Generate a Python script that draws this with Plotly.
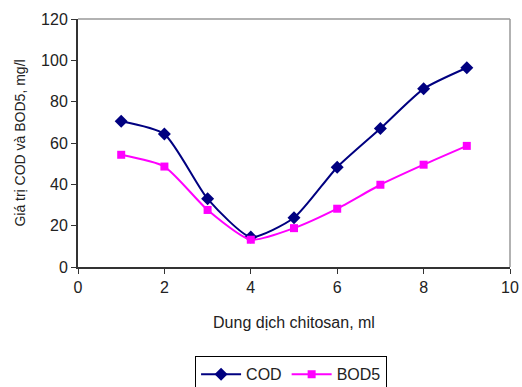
import plotly.graph_objects as go

x_vals = [1, 2, 3, 4, 5, 6, 7, 8, 9]
cod = [70.5, 64.3, 33, 14.5, 23.8, 48.3, 67, 86.2, 96.4]
bod5 = [54.3, 48.6, 27.6, 13.2, 18.8, 28.2, 39.8, 49.5, 58.6]
x_ticks = [0, 2, 4, 6, 8, 10]
y_ticks = [0, 20, 40, 60, 80, 100, 120]

font = "Liberation Sans, Arial, sans-serif"

fig = go.Figure()
fig.add_trace(go.Scatter(x=x_vals, y=cod, name="COD", mode="lines+markers",
                         line=dict(color="#000080", width=2, shape="spline", smoothing=0.6),
                         marker=dict(symbol="diamond", size=10, color="#000080")))
fig.add_trace(go.Scatter(x=x_vals, y=bod5, name="BOD5", mode="lines+markers",
                         line=dict(color="#FF00FF", width=2, shape="spline", smoothing=0.6),
                         marker=dict(symbol="square", size=8, color="#FF00FF")))

fig.add_shape(type="line", xref="paper", yref="paper", x0=0, x1=1, y0=1, y1=1,
              line=dict(color="#999999", width=1.5))
fig.add_shape(type="line", xref="paper", yref="paper", x0=1, x1=1, y0=0, y1=1,
              line=dict(color="#999999", width=1.5))

fig.update_layout(
    width=522, height=387,
    margin=dict(l=78, r=12, t=19, b=120, autoexpand=False),
    paper_bgcolor="white", plot_bgcolor="white",
    font=dict(family=font, size=15, color="#222222"),
    showlegend=True,
    legend=dict(orientation="h", x=0.271, y=-0.36, xanchor="left", yanchor="top",
                bordercolor="#000000", borderwidth=1, font=dict(size=16),
                itemwidth=40, tracegroupgap=0),
    xaxis=dict(range=[0, 10], tickvals=x_ticks, showgrid=False, zeroline=False,
               showline=True, linecolor="#333333", linewidth=2,
               ticks="outside", ticklen=5, tickcolor="#333333", automargin=False,
               tickfont=dict(size=16),
               title=dict(text="Dung dịch chitosan, ml", standoff=22, font=dict(size=16))),
    yaxis=dict(range=[0, 120], tickvals=y_ticks, showgrid=False, zeroline=False,
               showline=True, linecolor="#333333", linewidth=2,
               ticks="outside", ticklen=5, tickcolor="#333333", automargin=False,
               tickfont=dict(size=16),
               title=dict(text="Giá trị COD và BOD5, mg/l", standoff=12, font=dict(size=14))),
)

fig.write_html("out.html")
